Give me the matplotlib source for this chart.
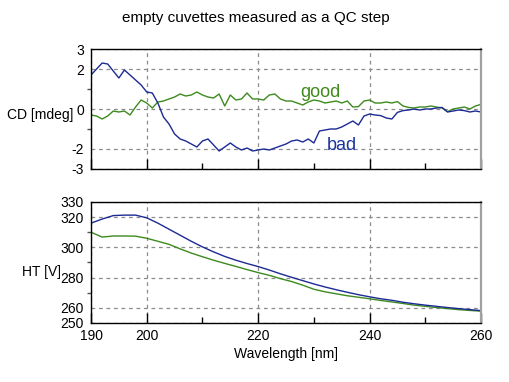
import matplotlib
matplotlib.use("Agg")
import matplotlib.pyplot as plt

plt.rcParams["font.family"] = ["Liberation Sans", "DejaVu Sans"]
plt.rcParams["axes.unicode_minus"] = False

# ------------------------------------------------------------
# Data
# ------------------------------------------------------------
cd_wl = list(range(190, 261))
cd_bad = [1.7, 2.0, 2.3, 2.25, 1.9, 1.55, 1.95, 1.7, 1.45, 1.2,
          0.85, 0.8, 0.3, -0.4, -0.75, -1.25, -1.5, -1.6, -1.75, -1.9,
          -1.6, -1.5, -1.8, -2.1, -1.9, -1.7, -1.9, -2.05, -1.95, -2.1,
          -2.05, -2.0, -2.05, -1.95, -1.85, -1.75, -1.6, -1.55, -1.65, -1.5,
          -1.7, -1.1, -1.05, -1.0, -1.0, -0.9, -0.75, -0.6, -0.8, -0.35,
          -0.25, -0.3, -0.33, -0.45, -0.5, -0.17, -0.08, -0.05, 0.0, -0.05,
          0.0, 0.0, 0.05, 0.08, -0.15, -0.1, -0.05, -0.08, -0.15, -0.1,
          -0.15]
cd_good = [-0.3, -0.35, -0.5, -0.35, -0.1, -0.15, -0.1, -0.3, 0.1, 0.45,
           0.3, 0.05, 0.35, 0.4, 0.5, 0.6, 0.75, 0.65, 0.7, 0.85,
           0.7, 0.6, 0.55, 0.75, 0.15, 0.7, 0.45, 0.5, 0.8, 0.5,
           0.5, 0.45, 0.7, 0.75, 0.5, 0.4, 0.4, 0.3, 0.2, 0.35,
           0.45, 0.4, 0.3, 0.35, 0.4, 0.3, 0.4, 0.1, 0.12, 0.4,
           0.45, 0.3, 0.3, 0.35, 0.3, 0.37, 0.15, 0.08, 0.05, 0.1,
           0.1, 0.15, 0.1, 0.05, -0.13, 0.0, 0.05, 0.1, 0.0, 0.15,
           0.23]

ht_wl = [190, 192, 194, 196, 198, 200, 202, 204, 206, 208, 210, 212, 214,
         216, 218, 220, 222, 224, 226, 228, 230, 232, 234, 236, 238, 240,
         242, 244, 246, 248, 250, 252, 254, 256, 258, 260]
ht_bad = [316, 318.7, 321, 321.3, 321.3, 319.5, 316, 312, 308, 304, 300.3,
          297, 294, 291.5, 289.3, 287.3, 285, 282.5, 280.2, 278, 275.8,
          273.8, 272, 270.3, 268.7, 267.3, 266, 265, 263.7, 262.7, 261.8,
          261, 260.2, 259.5, 258.8, 258.2]
ht_good = [310, 306.8, 307.5, 307.5, 307.4, 306, 304, 302, 299, 296.2,
           293.8, 291.5, 289.4, 287.4, 285.3, 283.3, 281.5, 279.3, 277.4,
           275, 272.3, 270.6, 269.3, 268, 267, 266, 264.9, 263.9, 262.9,
           261.8, 261, 260.2, 259.5, 258.8, 258.3, 257.8]

x_major = [190, 200, 220, 240, 260]
x_minor = [210, 230, 250]
cd_ticks = [-3, -2, 0, 2, 3]
cd_minor = [-1, 1]
ht_ticks = [250, 260, 280, 300, 320, 330]
ht_minor = [270, 290, 310]

BLUE = "#1c2a94"
GREEN = "#3d8a1e"
GRID = "#8c8c8c"


# ------------------------------------------------------------
# Axis styling
# ------------------------------------------------------------
def style_axes(ax, yticks, yminor, show_xlabels):
    ax.set_xlim(190, 260)
    ax.set_xticks(x_major)
    ax.set_xticks(x_minor, minor=True)
    ax.set_yticks(yticks)
    ax.set_yticks(yminor, minor=True)
    ax.tick_params(axis="x", which="major", direction="in", length=7,
                   width=1, pad=4, labelsize=10, labelbottom=show_xlabels)
    ax.tick_params(axis="x", which="minor", direction="in", length=4, width=1)
    ax.tick_params(axis="y", which="major", length=0, pad=5, labelsize=10)
    ax.tick_params(axis="y", which="minor", direction="out", length=3, width=1,
                   color="#555555")
    ax.grid(True, which="major", color=GRID, linestyle=(0, (3, 3)),
            linewidth=0.9)
    ax.set_axisbelow(True)
    for side in ("left", "bottom", "top"):
        ax.spines[side].set_color("black")
        ax.spines[side].set_linewidth(1)
    ax.spines["right"].set_color("#a0a0a0")
    ax.spines["right"].set_linewidth(1.6)


fig = plt.figure(figsize=(5.09, 3.82), dpi=100)

# ------------------------------------------------------------
# Top panel: CD
# ------------------------------------------------------------
ax1 = fig.add_axes([0.1788, 0.5576, 0.7662, 0.3141])
ax1.plot(cd_wl, cd_good, color=GREEN, linewidth=1)
ax1.plot(cd_wl, cd_bad, color=BLUE, linewidth=1)
ax1.set_ylim(-3, 3)
style_axes(ax1, cd_ticks, cd_minor, False)
ax1.text(227.5, 0.62, "good", color="#3f8a1a", fontsize=13, va="baseline")
ax1.text(232.3, -2.05, "bad", color="#1a35a0", fontsize=13, va="baseline")

# ------------------------------------------------------------
# Bottom panel: HT
# ------------------------------------------------------------
ax2 = fig.add_axes([0.1788, 0.1545, 0.7662, 0.3168])
ax2.plot(ht_wl, ht_good, color=GREEN, linewidth=1)
ax2.plot(ht_wl, ht_bad, color=BLUE, linewidth=1)
ax2.set_ylim(250, 330)
style_axes(ax2, ht_ticks, ht_minor, True)
ax2.set_xlabel("Wavelength [nm]", fontsize=10, labelpad=3)

fig.text(0.502, 0.953, "empty cuvettes measured as a QC step",
         ha="center", va="center", fontsize=11)
fig.text(7 / 509, 1 - 115 / 382, "CD [mdeg]", ha="left", va="center",
         fontsize=10)
fig.text(22 / 509, 1 - 272 / 382, "HT [V]", ha="left", va="center",
         fontsize=10)

fig.savefig("out.png", dpi=100)
